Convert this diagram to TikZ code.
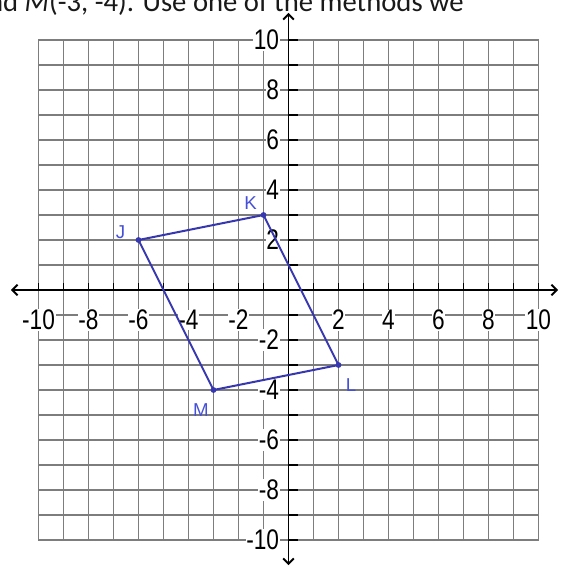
\documentclass[tikz,border=0pt]{standalone}
\usepackage{fontspec}
\setmainfont{Liberation Sans}
\newfontfamily\captionfont{Carlito}
\usepackage{xcolor}
\definecolor{gridgray}{RGB}{125, 125, 125}
\definecolor{shapeblue}{RGB}{55, 55, 175}
\definecolor{labelblue}{RGB}{70, 80, 215}
\definecolor{captionblack}{RGB}{25, 25, 25}
\usepackage{tikz}
\usetikzlibrary{arrows.meta}
\newcommand{\talldigits}[1]{\scalebox{1}[1.25]{#1}}

\begin{document}
\begin{tikzpicture}[x=18.75pt, y=18.75pt, >={Straight Barb[length=4pt, width=8pt]},
    gridline/.style={gridgray, line width=1.1pt},
    axisline/.style={black, line width=1.4pt},
    ticklabel/.style={font=\fontsize{17}{17}\selectfont, fill=white, inner sep=0.5pt},
    vertexlabel/.style={font=\fontsize{14}{14}\selectfont, text=labelblue, inner sep=0pt}]
    \clip (-11.54,-11.08) rectangle (10.86,11.6);
    \node[anchor=base east, inner sep=0pt, font=\captionfont\fontsize{21.5}{21.5}\selectfont, text=captionblack] (caption) at (7.02,11.12) {and \textit{M}(-3, -4). Use one of the methods we};

    \draw[gridline, step=1] (-10,-10) grid (10,10);
    \draw[axisline, <->] (-11.1,0) -- (10.78,0);
    \draw[axisline, <->] (0,-11.0) -- (0,11.08);
    \foreach \t in {-10,...,10} {
        \draw[axisline, line width=1.2pt] (\t,0) -- (\t,0.28);
        \draw[axisline, line width=1.2pt] (0,\t) -- (0.36,\t);
    }
    \foreach \t in {-10,-8,-6,-4,-2,2,4,6,8,10} {
        \node[ticklabel] (xlabel\t) at (\t,-1.2) {\talldigits{\t}};
        \node[ticklabel, anchor=east] (ylabel\t) at (-0.34,\t) {\talldigits{\t}};
    }

    \coordinate (J) at (-6,2);
    \coordinate (K) at (-1,3);
    \coordinate (L) at (2,-3);
    \coordinate (M) at (-3,-4);
    \draw[shapeblue, line width=1.5pt, line join=round] (J) -- (K) -- (L) -- (M) -- cycle;
    \foreach \p in {J,K,L,M}
        \fill[shapeblue] (\p) circle (2.2pt);
    \node[vertexlabel] (Jlabel) at (-6.72,2.32) {J};
    \node[vertexlabel] (Klabel) at (-1.52,3.48) {K};
    \node[vertexlabel] (Llabel) at (2.5,-3.8) {L};
    \node[vertexlabel] (Mlabel) at (-3.5,-4.8) {M};
\end{tikzpicture}
\end{document}
